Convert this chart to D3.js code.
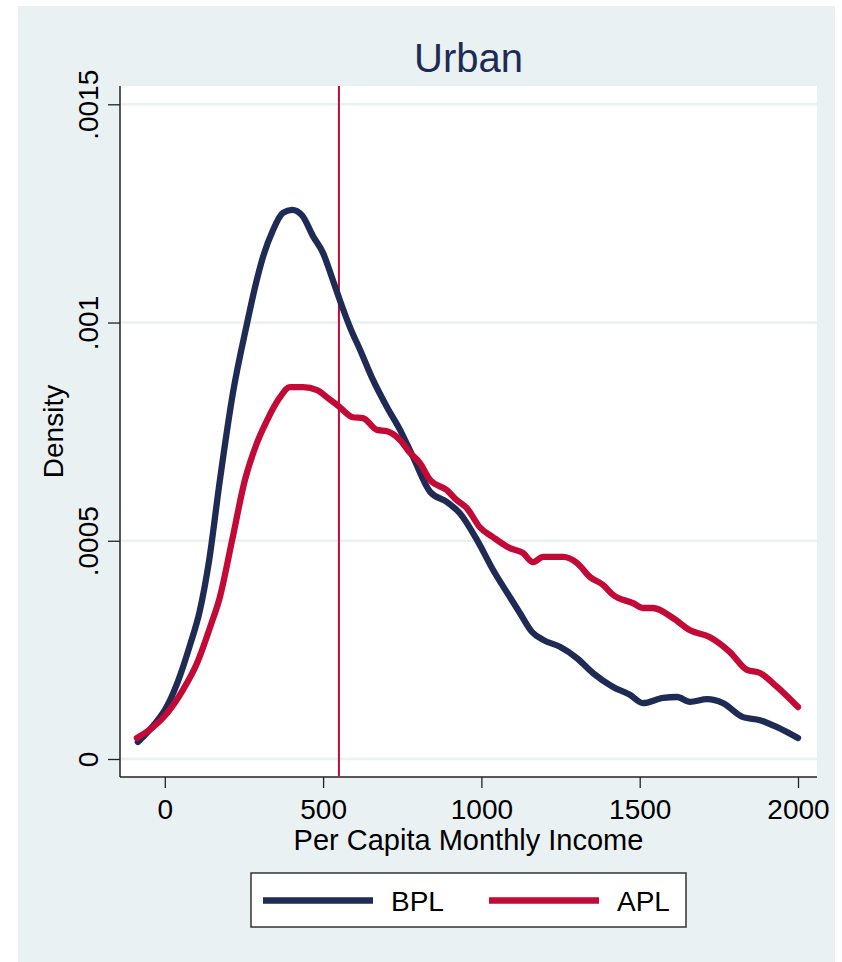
<!DOCTYPE html>
<html>
<head>
<meta charset="utf-8">
<script src="https://cdn.jsdelivr.net/npm/d3@7"></script>
<style>
  body { margin: 0; background: #fff; }
  text { font-family: "Liberation Sans", Arial, Helvetica, sans-serif; }
</style>
</head>
<body>
<script>
// data
var bplIncome = [-85, -15, 0, 40, 80, 110, 140, 174, 215, 260, 285, 310, 342, 373, 402, 433, 468, 500, 531, 553, 585, 617, 658, 702, 743, 784, 838, 891, 932, 986, 1037, 1090, 1122, 1160, 1195, 1248, 1302, 1352, 1416, 1469, 1510, 1574, 1618, 1659, 1713, 1763, 1826, 1880, 1934, 2000];
var bplDensity = [0.000039, 0.000096, 0.000112, 0.000175, 0.000262, 0.000338, 0.000455, 0.000639, 0.000838, 0.000999, 0.001081, 0.00115, 0.001212, 0.001251, 0.001258, 0.001246, 0.001198, 0.001159, 0.001097, 0.001051, 0.000989, 0.000937, 0.000868, 0.000806, 0.000754, 0.000692, 0.000612, 0.000589, 0.000563, 0.000502, 0.000433, 0.000371, 0.000334, 0.000291, 0.000273, 0.000257, 0.000231, 0.000197, 0.000165, 0.000147, 0.000128, 0.00014, 0.000142, 0.000131, 0.000137, 0.000128, 0.000096, 0.000089, 0.000073, 0.000048];

var aplIncome = [-88, -37, 7, 57, 102, 143, 174, 212, 253, 291, 323, 364, 395, 437, 481, 512, 553, 594, 626, 670, 702, 743, 775, 806, 838, 891, 922, 954, 995, 1037, 1090, 1131, 1163, 1195, 1258, 1302, 1343, 1384, 1416, 1479, 1510, 1542, 1605, 1659, 1722, 1785, 1839, 1880, 1934, 2000];
var aplDensity = [0.000048, 0.000073, 0.000105, 0.000158, 0.00022, 0.000302, 0.000371, 0.000499, 0.000639, 0.000724, 0.000776, 0.000829, 0.000852, 0.000852, 0.000845, 0.000829, 0.000806, 0.000783, 0.000781, 0.000754, 0.000751, 0.000731, 0.000701, 0.000678, 0.000639, 0.000616, 0.000593, 0.000575, 0.000531, 0.000508, 0.000483, 0.000472, 0.000451, 0.000463, 0.000463, 0.000449, 0.000417, 0.000399, 0.000376, 0.000357, 0.000346, 0.000346, 0.000323, 0.000295, 0.000279, 0.000245, 0.000204, 0.000197, 0.000165, 0.000119];

var xTicks = [0, 500, 1000, 1500, 2000];
var yTicks = [0, 0.0005, 0.001, 0.0015];
var povertyLine = 550;
var seriesNames = ["BPL", "APL"];

var width = 842, height = 962;
var navy = "#1d2b55", cranberry = "#c30a36", panelBg = "#eaf1f3";
var plot = {left: 120, top: 86, right: 817, bottom: 777};

var svg = d3.select("body").append("svg")
    .attr("width", width)
    .attr("height", height);

// outer panel
svg.append("rect")
    .attr("x", 18).attr("y", 6)
    .attr("width", 817).attr("height", 956)
    .attr("fill", panelBg);

// plot region
svg.append("rect")
    .attr("x", plot.left).attr("y", plot.top)
    .attr("width", plot.right - plot.left).attr("height", plot.bottom - plot.top)
    .attr("fill", "#fff");

var x = d3.scaleLinear().domain([0, 2000]).range([164.8, 798]);
var y = d3.scaleLinear().domain([0, 0.0015]).range([759, 104.3]);

// grid lines
svg.append("g").selectAll("line")
    .data(yTicks)
    .enter().append("line")
    .attr("x1", plot.left).attr("x2", plot.right)
    .attr("y1", d => y(d)).attr("y2", d => y(d))
    .attr("stroke", panelBg)
    .attr("stroke-width", 2.5);

// y axis
var yAxis = d3.axisLeft(y)
    .tickValues(yTicks)
    .tickSize(12)
    .tickFormat(d => d === 0 ? "0" : d3.format(".4~f")(d).replace(/^0/, ""));

var yG = svg.append("g")
    .attr("transform", `translate(${plot.left},0)`)
    .call(yAxis);
yG.select(".domain").remove();
yG.selectAll(".tick line").attr("stroke", "#222").attr("stroke-width", 1.3);
yG.selectAll(".tick text")
    .attr("font-size", 28)
    .attr("fill", "#000")
    .attr("text-anchor", "middle")
    .attr("dy", 0)
    .attr("x", 0)
    .attr("transform", "translate(-22,0) rotate(-90)");

// x axis
var xAxis = d3.axisBottom(x)
    .tickValues(xTicks)
    .tickSize(11)
    .tickFormat(d3.format("d"));

var xG = svg.append("g")
    .attr("transform", `translate(0,${plot.bottom})`)
    .call(xAxis);
xG.select(".domain").remove();
xG.selectAll(".tick line").attr("stroke", "#222").attr("stroke-width", 1.3);
xG.selectAll(".tick text")
    .attr("font-size", 28)
    .attr("fill", "#000")
    .attr("dy", 0)
    .attr("y", 42);

// axis lines
svg.append("line")
    .attr("x1", plot.left).attr("x2", plot.left)
    .attr("y1", plot.top).attr("y2", plot.bottom)
    .attr("stroke", "#222").attr("stroke-width", 1.5);
svg.append("line")
    .attr("x1", plot.left).attr("x2", plot.right)
    .attr("y1", plot.bottom).attr("y2", plot.bottom)
    .attr("stroke", "#222").attr("stroke-width", 1.5);

// poverty line
svg.append("line")
    .attr("x1", x(povertyLine)).attr("x2", x(povertyLine))
    .attr("y1", plot.top).attr("y2", plot.bottom - 0.75)
    .attr("stroke", cranberry)
    .attr("stroke-width", 2);

var line = d3.line()
    .x(d => x(d[0]))
    .y(d => y(d[1]))
    .curve(d3.curveMonotoneX);

var series = [
    {name: seriesNames[0], color: navy, values: d3.zip(bplIncome, bplDensity)},
    {name: seriesNames[1], color: cranberry, values: d3.zip(aplIncome, aplDensity)}
];

svg.append("g").selectAll("path")
    .data(series)
    .enter().append("path")
    .attr("d", d => line(d.values))
    .attr("fill", "none")
    .attr("stroke", d => d.color)
    .attr("stroke-width", 6.3)
    .attr("stroke-linejoin", "round")
    .attr("stroke-linecap", "round");

// titles
svg.append("text")
    .attr("x", (plot.left + plot.right) / 2)
    .attr("y", 72)
    .attr("text-anchor", "middle")
    .attr("font-size", 40)
    .attr("fill", navy)
    .text("Urban");

svg.append("text")
    .attr("x", (plot.left + plot.right) / 2)
    .attr("y", 850)
    .attr("text-anchor", "middle")
    .attr("font-size", 29)
    .text("Per Capita Monthly Income");

svg.append("text")
    .attr("transform", `translate(63,${(plot.top + plot.bottom) / 2}) rotate(-90)`)
    .attr("text-anchor", "middle")
    .attr("font-size", 28)
    .text("Density");

// legend
var legend = svg.append("g").attr("transform", "translate(251,873)");
legend.append("rect")
    .attr("width", 435).attr("height", 54)
    .attr("fill", "#fff")
    .attr("stroke", "#333")
    .attr("stroke-width", 1.5);

var item = legend.selectAll(".item")
    .data(series)
    .enter().append("g")
    .attr("class", "item")
    .attr("transform", (d, i) => `translate(${12 + i * 226},0)`);
item.append("line")
    .attr("x1", 0).attr("x2", 110)
    .attr("y1", 27.5).attr("y2", 27.5)
    .attr("stroke", d => d.color)
    .attr("stroke-width", 6.5);
item.append("text")
    .attr("x", 128)
    .attr("y", 38)
    .attr("font-size", 28)
    .text(d => d.name);
</script>
</body>
</html>
